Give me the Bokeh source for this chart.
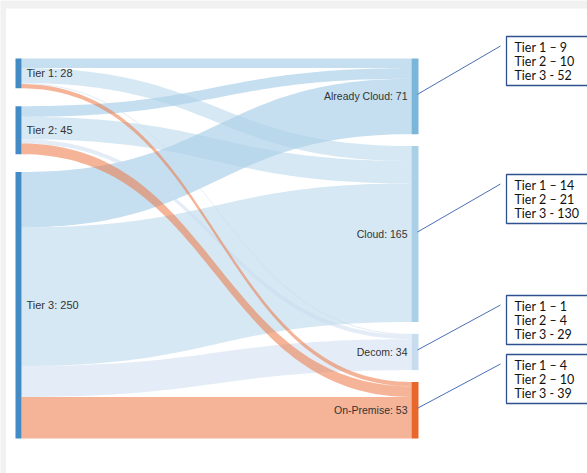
import numpy as np
from bokeh.plotting import figure
from bokeh.models import Range1d, ColumnDataSource
from bokeh.core.properties import value
from bokeh.embed import file_html
from bokeh.resources import INLINE

# ---------------- data ----------------
sources = ["Tier 1", "Tier 2", "Tier 3"]
targets = ["Already Cloud", "Cloud", "Decom", "On-Premise"]
# flows from each tier to [Already Cloud, Cloud, Decom, On-Premise]
tier1_flows = [9, 14, 1, 4]
tier2_flows = [10, 21, 4, 10]
tier3_flows = [52, 130, 29, 39]
flows = [tier1_flows, tier2_flows, tier3_flows]

box_lines = [
    ["Tier 1 \u2013 9", "Tier 2 \u2013 10", "Tier 3 - 52"],
    ["Tier 1 \u2013 14", "Tier 2 \u2013 21", "Tier 3 - 130"],
    ["Tier 1 \u2013 1", "Tier 2 \u2013 4", "Tier 3 - 29"],
    ["Tier 1 \u2013  4", "Tier 2 \u2013 10", "Tier 3 - 39"],
]

# ---------------- styles / layout ----------------
W, H = 587, 473
src_node_color = "#438bc4"
tgt_node_colors = ["#7ab5da", "#a9d0e6", "#c8dcef", "#e8672a"]
link_colors = ["#8cc0e2", "#aed1e7", "#c9dcf0", "#ec7743"]
link_alphas = [0.5, 0.5, 0.5, 0.55]

left_x0, left_x1 = 15, 21
right_x0, right_x1 = 411, 418
top, bottom = 58, 438

src_vals = [sum(f) for f in flows]
tgt_vals = [sum(flows[i][j] for i in range(len(sources))) for j in range(len(targets))]
k = 1.066  # px per unit


def column_positions(vals):
    gap = (bottom - top - k * sum(vals)) / (len(vals) - 1)
    pos = []
    y = top
    for v in vals:
        pos.append((y, y + k * v))
        y += k * v + gap
    return pos


src_pos = column_positions(src_vals)
tgt_pos = column_positions(tgt_vals)

p = figure(width=W, height=H, output_backend="svg", toolbar_location=None,
           x_range=Range1d(0, W), y_range=Range1d(H, 0),
           min_border=0, outline_line_color=None, background_fill_color="#f1f1f1",
           border_fill_color="#f1f1f1")
p.xaxis.visible = False
p.yaxis.visible = False
p.grid.visible = False

# white page area
p.quad(left=5.5, right=W + 2, top=8, bottom=H + 2, fill_color="white", line_color=None)

# ---------------- links ----------------
src_off = [s[0] for s in src_pos]
tgt_off = [t[0] for t in tgt_pos]
seg = {}
for i in range(len(sources)):
    for j in range(len(targets)):
        v = flows[i][j]
        seg[(i, j, "s")] = (src_off[i], src_off[i] + k * v)
        src_off[i] += k * v
for j in range(len(targets)):
    for i in range(len(sources)):
        v = flows[i][j]
        seg[(i, j, "t")] = (tgt_off[j], tgt_off[j] + k * v)
        tgt_off[j] += k * v

t = np.linspace(0, 1, 80)
x0, x1 = left_x1, right_x0
xm = (x0 + x1) / 2


def bez(a, b, c, d):
    return (1 - t) ** 3 * a + 3 * (1 - t) ** 2 * t * b + 3 * (1 - t) * t ** 2 * c + t ** 3 * d


bx = bez(x0, xm, xm, x1)
link_xs, link_ys, link_col, link_a = [], [], [], []
for j in range(len(targets)):          # draw by target so orange bands sit on top
    for i in range(len(sources)):
        s0, s1 = seg[(i, j, "s")]
        t0, t1 = seg[(i, j, "t")]
        ytop = bez(s0, s0, t0, t0)
        ybot = bez(s1, s1, t1, t1)
        link_xs.append(list(bx) + list(bx[::-1]))
        link_ys.append(list(ytop) + list(ybot[::-1]))
        link_col.append(link_colors[j])
        link_a.append(link_alphas[j])

p.patches(xs="xs", ys="ys",
          source=ColumnDataSource(dict(xs=link_xs, ys=link_ys, c=link_col, a=link_a)),
          fill_color="c", fill_alpha="a", line_color=None)

# ---------------- nodes ----------------
p.quad(left=left_x0, right=left_x1, top=[s[0] for s in src_pos], bottom=[s[1] for s in src_pos],
       fill_color=src_node_color, line_color=None)
p.quad(left=right_x0, right=right_x1, top=[s[0] for s in tgt_pos], bottom=[s[1] for s in tgt_pos],
       fill_color=tgt_node_colors, line_color=None)

label_font = value("Liberation Sans")
p.text(x=left_x1 + 5, y=[(a + b) / 2 for a, b in src_pos],
       text=[f"{n}: {v}" for n, v in zip(sources, src_vals)],
       text_font=label_font, text_font_size="11px", text_color="#333333",
       text_align="left", text_baseline="middle")
p.text(x=right_x0 - 4, y=[(a + b) / 2 for a, b in tgt_pos],
       text=[f"{n}: {v}" for n, v in zip(targets, tgt_vals)],
       text_font=label_font, text_font_size="10.5px", text_color="#333333",
       text_align="right", text_baseline="middle")

# ---------------- annotation boxes ----------------
box_tops = [36, 174, 295, 354]
box_h = 49
box_left, box_right = 506, 590
p.quad(left=box_left, right=box_right, top=box_tops, bottom=[b + box_h for b in box_tops],
       fill_color="white", line_color="#2f528f", line_width=1.3)
p.segment(x0=right_x1 - 1, y0=[(a + b) / 2 - 2 for a, b in tgt_pos],
          x1=box_left - 6, y1=[b + 9.5 for b in box_tops],
          line_color="#4a6fb5", line_width=1)

tx, ty, tt = [], [], []
for bt, lines in zip(box_tops, box_lines):
    for n, s in enumerate(lines):
        tx.append(box_left + 8)
        ty.append(bt + 11 + 14 * n)
        tt.append(s)
p.text(x=tx, y=ty, text=tt, text_font=value("Lato"), text_font_size="12.5px",
       text_color="#111111", text_align="left", text_baseline="middle")

open("out.html", "w").write(file_html(p, INLINE))
